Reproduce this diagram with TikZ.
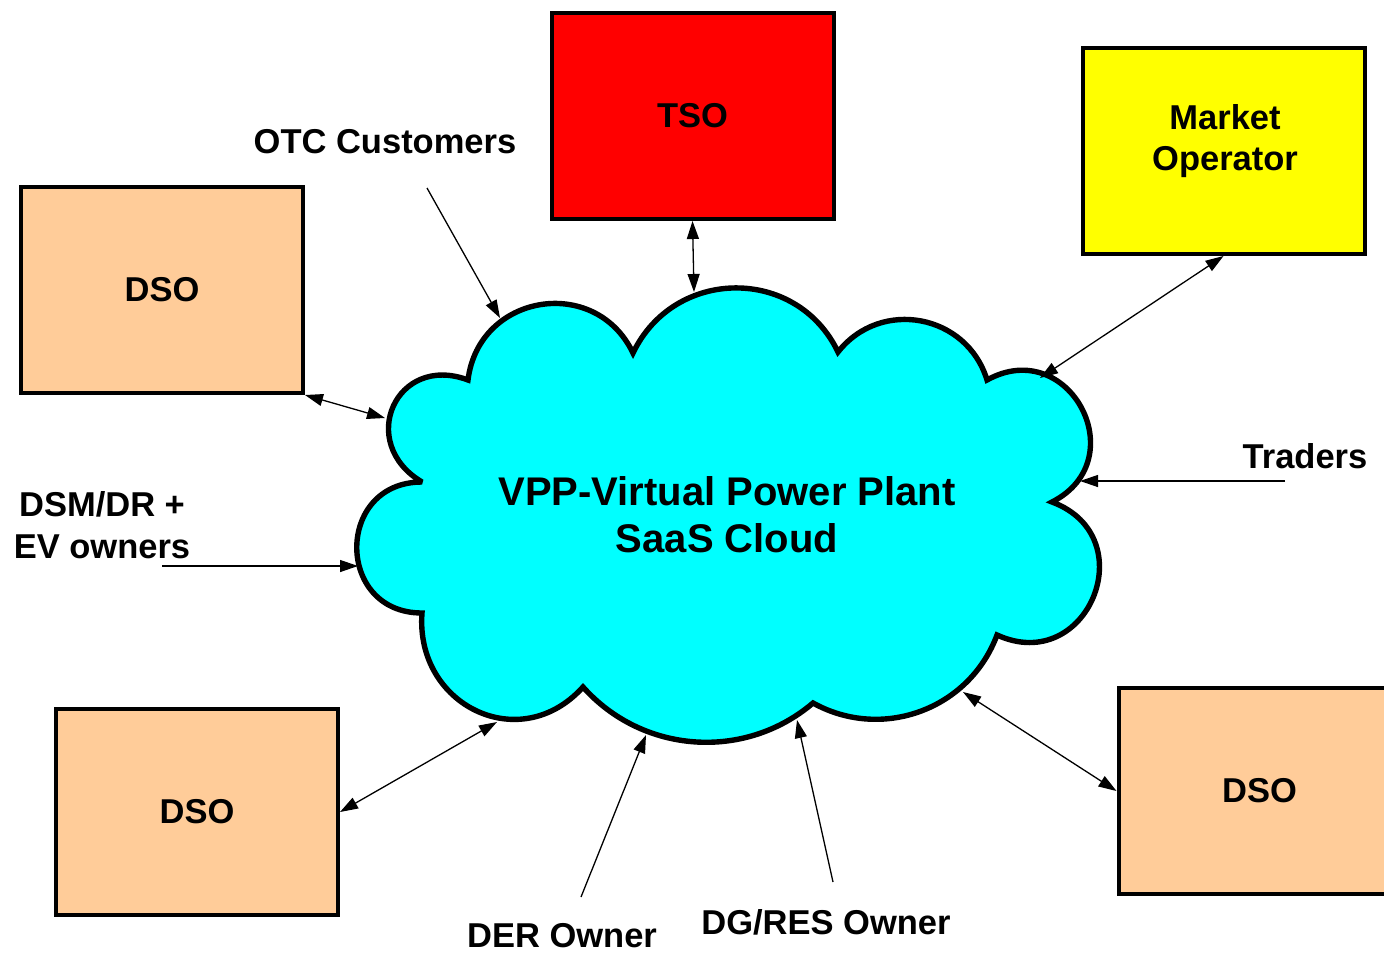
\documentclass[tikz,border=0pt]{standalone}
\usepackage{fontspec}
\setmainfont{Liberation Sans}
\usetikzlibrary{arrows.meta}
\definecolor{dsofill}{HTML}{FFCC99}
\definecolor{tsofill}{HTML}{FF0000}
\definecolor{mofill}{HTML}{FFFF00}
\definecolor{cloudfill}{HTML}{00FFFF}
\newcommand{\lblfont}{\bfseries\fontsize{17.25pt}{20.7pt}\selectfont}
\newcommand{\vppfont}{\bfseries\fontsize{20pt}{23.5pt}\selectfont}
\begin{document}
\begin{tikzpicture}[x=0.5pt,y=-0.5pt,
  box/.style={draw=black,line width=2pt,minimum width=141pt,minimum height=103pt,inner sep=0pt,font=\lblfont},
  lbl/.style={font=\lblfont,inner sep=0pt,align=center},
  tip/.tip={Triangle[length=9pt,width=6pt]},
  link/.style={line width=0.65pt,-tip},
  twoway/.style={line width=0.65pt,tip-tip},
]
\clip (0,0) rectangle (1384,953);

% the VPP cloud
\path[draw=black,line width=2.7pt,fill=cloudfill,line join=miter,miter limit=3]
  (422,482) .. controls (356,443) and (396,353) .. (468,380)
  .. controls (478.6,293.6) and (595.4,274.4) .. (633,353)
  .. controls (674.2,266.9) and (796.8,265.9) .. (838,352)
  .. controls (880.7,297.8) and (966.9,314) .. (987,380)
  .. controls (1069,334.6) and (1135.5,459.4) .. (1052,502)
  .. controls (1145.1,536.8) and (1087.5,676.2) .. (997,635)
  .. controls (969.4,709.2) and (882.3,741.4) .. (813,703)
  .. controls (744.8,761.1) and (642.6,753.9) .. (583,687)
  .. controls (520,757) and (415,705) .. (422,613)
  .. controls (335,613) and (335,482) .. (422,482) -- cycle;
\node[font=\vppfont,align=center,inner sep=0pt] (vpp) at (727,514.5)
  {VPP-Virtual Power Plant\\SaaS Cloud};

% points on the cloud outline where connectors end
\coordinate (onOTC) at (500,318);
\coordinate (onTSO) at (694,292);
\coordinate (onMO) at (1040,378);
\coordinate (onDsoTL) at (385,418);
\coordinate (onTraders) at (1080,481);
\coordinate (onDSM) at (358,566);
\coordinate (onDsoBL) at (497,722);
\coordinate (onDER) at (646,735);
\coordinate (onDG) at (797,720);
\coordinate (onDsoBR) at (963,692);

% actors with boxes
\node[box,fill=dsofill] (dsoTL) at (162,290) {DSO};
\node[box,fill=tsofill] (tso) at (692.5,116) {TSO};
\node[box,fill=mofill] (mo) at (1223.5,151) {};
\node[lbl] (moText) at (1225,141) {Market\\Operator};
\node[box,fill=dsofill] (dsoBL) at (197,812) {DSO};
\node[box,fill=dsofill] (dsoBR) at (1259.5,791) {DSO};

% free-standing actors
\node[lbl] (otc) at (385,142) {OTC Customers};
\node[lbl] (traders) at (1305,456) {Traders};
\node[lbl] (dsm) at (102,525) {DSM/DR +\\EV owners};
\node[lbl] (der) at (562,936) {DER Owner};
\node[lbl] (dg) at (826,922) {DG/RES Owner};

\coordinate (otcFrom) at (427,188);
\coordinate (tradersFrom) at (1285,481);
\coordinate (dsmFrom) at (162,566);
\coordinate (derFrom) at (581,897);
\coordinate (dgFrom) at (833,882);

% connectors
\draw[link] (otcFrom) -- (onOTC);
\draw[twoway] (tso.south) -- (onTSO);
\draw[twoway] (mo.south) -- (onMO);
\draw[twoway] (dsoTL.south east) -- (onDsoTL);
\draw[link] (tradersFrom) -- (onTraders);
\draw[link] (dsmFrom) -- (onDSM);
\draw[twoway] (dsoBL.east) -- (onDsoBL);
\draw[link] (derFrom) -- (onDER);
\draw[link] (dgFrom) -- (onDG);
\draw[twoway] (dsoBR.west) -- (onDsoBR);
\end{tikzpicture}
\end{document}
